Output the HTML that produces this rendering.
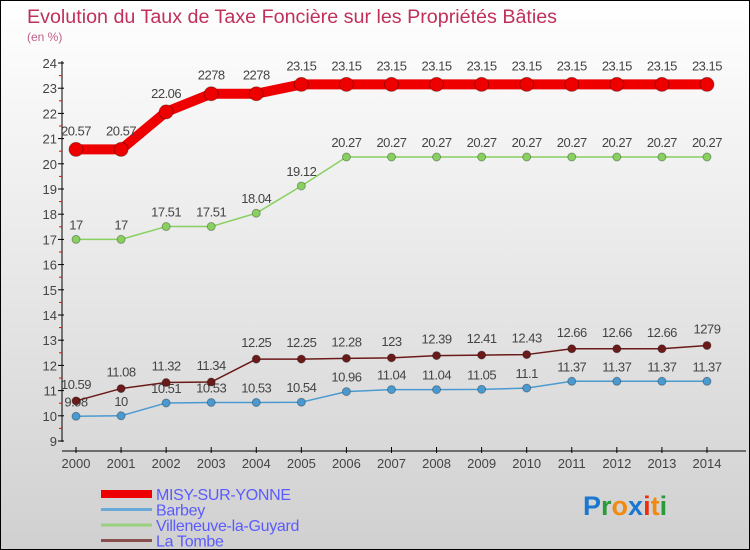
<!DOCTYPE html>
<html><head><meta charset="utf-8"><style>
body{margin:0}
#c{width:748px;height:548px;border:1px solid #000;background:linear-gradient(#fff,#d0d0d0);position:relative;overflow:hidden;font-family:"Liberation Sans",sans-serif}
</style></head><body>
<div id="c">
<svg id="s" width="748" height="548"></svg>
</div>
<script>
const years=["2000","2001","2002","2003","2004","2005","2006","2007","2008","2009","2010","2011","2012","2013","2014"];
const misy=[20.57,20.57,22.06,22.78,22.78,23.15,23.15,23.15,23.15,23.15,23.15,23.15,23.15,23.15,23.15];
const barbey=[9.98,10,10.51,10.53,10.53,10.54,10.96,11.04,11.04,11.05,11.1,11.37,11.37,11.37,11.37];
const ville=[17,17,17.51,17.51,18.04,19.12,20.27,20.27,20.27,20.27,20.27,20.27,20.27,20.27,20.27];
const tombe=[10.59,11.08,11.32,11.34,12.25,12.25,12.28,12.3,12.39,12.41,12.43,12.66,12.66,12.66,12.79];
const yTicks=[9,10,11,12,13,14,15,16,17,18,19,20,21,22,23,24];
const lbl={misy:["20.57","20.57","22.06","2278","2278","23.15","23.15","23.15","23.15","23.15","23.15","23.15","23.15","23.15","23.15"],
ville:["17","17","17.51","17.51","18.04","19.12","20.27","20.27","20.27","20.27","20.27","20.27","20.27","20.27","20.27"],
tombe:["10.59","11.08","11.32","11.34","12.25","12.25","12.28","123","12.39","12.41","12.43","12.66","12.66","12.66","1279"],
barbey:["9.98","10","10.51","10.53","10.53","10.54","10.96","11.04","11.04","11.05","11.1","11.37","11.37","11.37","11.37"]};
const X=i=>75+i*45.07, Y=v=>440-(v-9)*25.2;
const s=document.getElementById('s'),NS='http://www.w3.org/2000/svg';
function el(t,a,name,txt){const e=document.createElementNS(NS,t);for(const k in a)e.setAttribute(k,a[k]);


if(txt!==undefined)e.textContent=txt;s.appendChild(e);return e;}
el('text',{x:26,y:22,fill:'#c0305a','font-size':19.7},'chart-title','Evolution du Taux de Taxe Foncière sur les Propriétés Bâties');
el('text',{x:26,y:40,fill:'#c0608a','font-size':12},'y-unit','(en %)');
el('line',{x1:61,y1:60,x2:61,y2:441,stroke:'#000'},'y-axis');
yTicks.forEach((t,i)=>{el('line',{x1:57,x2:63,y1:Y(t),y2:Y(t),stroke:'#000'},'y-tick');
el('text',{x:56,y:Y(t)+5,'text-anchor':'end','font-size':13,fill:'#444'},'y-tick-label',t);
if(i<yTicks.length-1)el('line',{x1:58,x2:61,y1:Y(t+0.5),y2:Y(t+0.5),stroke:'#f00'},'y-minor-tick');});
el('line',{x1:61,y1:450,x2:745,y2:450,stroke:'#000'},'x-axis');
years.forEach((y,i)=>{el('line',{x1:X(i),x2:X(i),y1:446,y2:452,stroke:'#000'},'x-tick');
el('text',{x:X(i),y:467,'text-anchor':'middle','font-size':13,fill:'#444'},'x-tick-label',y);});
function series(d,c,w,r,name,labels,dy){
el('polyline',{points:d.map((v,i)=>X(i)+','+Y(v)).join(' '),fill:'none',stroke:c,'stroke-width':w,'stroke-linejoin':'round'},name+'-line');
d.forEach((v,i)=>{el('circle',{cx:X(i),cy:Y(v),r:r,fill:c,stroke:'rgba(0,0,0,0.3)'},name+'-point');
el('text',{x:X(i),y:Y(v)+dy,'text-anchor':'middle','font-size':13,fill:'#444','letter-spacing':'-0.5'},name+'-value',labels[i]);});}
series(barbey,'#4a9ad0',1.5,4,'barbey',lbl.barbey,-10);
series(ville,'#88d060',1.5,4,'villeneuve',lbl.ville,-10);
series(tombe,'#6b1a1a',1.5,4,'la-tombe',lbl.tombe,-12);
series(misy,'#ee0000',10,7,'misy',lbl.misy,-14);
const leg=[['MISY-SUR-YONNE','#ee0000',8],['Barbey','#6aaad8',3],['Villeneuve-la-Guyard','#99d080',3],['La Tombe','#8a5050',3]];
leg.forEach((l,i)=>{const y=493+i*15.5;
el('line',{x1:100,x2:151,y1:y,y2:y,stroke:l[1],'stroke-width':l[2]},'legend-swatch');
el('text',{x:155,y:y+6,'font-size':16,fill:'#5b5bff','letter-spacing':'-0.3'},'legend-label',l[0]);});
const lg=[['P','#1a78d0'],['r','#2a9a3a'],['o','#f08a10'],['x','#1a78d0'],['i','#e83010'],['t','#f08a10'],['i','#2a9a3a']];
const tx=el('text',{x:582,y:514,'font-size':27,'font-weight':'bold'},'proxiti-logo');
lg.forEach(([ch,c])=>{const t=document.createElementNS(NS,'tspan');t.setAttribute('fill',c);t.textContent=ch;tx.appendChild(t);});
</script>
</body></html>
